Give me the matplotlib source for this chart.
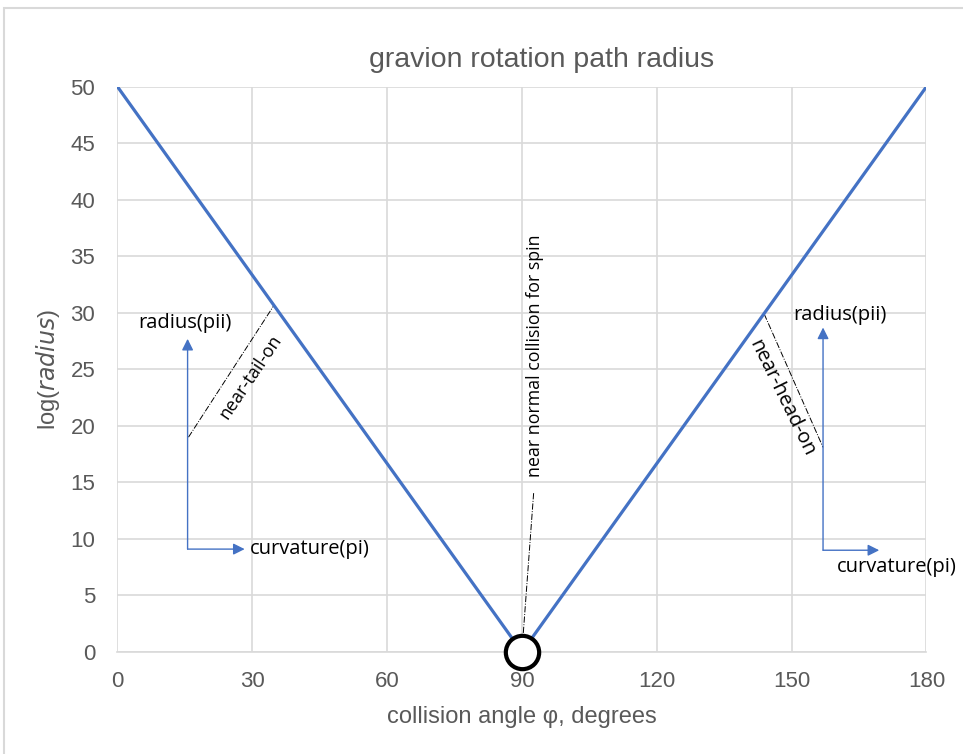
import matplotlib.pyplot as plt
from matplotlib.patches import Rectangle

# data
angle = [0, 90, 180]
log_radius = [50, 0, 50]
x_ticks = [0, 30, 60, 90, 120, 150, 180]
y_ticks = [0, 5, 10, 15, 20, 25, 30, 35, 40, 45, 50]

BLUE = '#4472C4'
GRAY = '#595959'
GRID = '#d9d9d9'

plt.rcParams['font.family'] = ['Liberation Sans', 'DejaVu Sans']

fig = plt.figure(figsize=(9.63, 7.54), dpi=100)
fig.patches.append(Rectangle((0.004, -0.01), 1.2, 1.0, transform=fig.transFigure,
                             fill=False, edgecolor=GRID, lw=1.5))
ax = fig.add_axes([0.122, 0.1353, 0.84, 0.7497])

ax.plot(angle, log_radius, color=BLUE, lw=2.3, zorder=3)
ax.plot([90], [0], 'o', ms=24, mfc='white', mec='black', mew=3, zorder=5, clip_on=False)

ax.set_xlim(0, 180)
ax.set_ylim(0, 50)
ax.set_xticks(x_ticks)
ax.set_yticks(y_ticks)
ax.grid(True, color=GRID, lw=1.2)
ax.set_axisbelow(True)
for s in ['top', 'right', 'left']:
    ax.spines[s].set_visible(False)
ax.spines['bottom'].set_color(GRID)
ax.spines['bottom'].set_linewidth(1.2)
ax.tick_params(length=0, labelsize=16, labelcolor=GRAY)
ax.tick_params(axis='x', pad=14)
ax.tick_params(axis='y', pad=16)

ax.set_title('gravion rotation path radius', fontsize=20.5, color=GRAY, pad=14, x=0.524)
ax.set_xlabel('collision angle φ, degrees', fontsize=17, color=GRAY, labelpad=10)
ax.set_ylabel(r'log($\it{radius}$)', fontsize=17, color=GRAY, labelpad=6)

note = dict(color='black', family=['Open Sans', 'DejaVu Sans'])
arrow = dict(arrowstyle='-|>', color=BLUE, lw=1.0, mutation_scale=17, shrinkA=0, shrinkB=0)

# left annotations
ax.annotate('', xy=(15.6, 27.7), xytext=(15.6, 9.1), arrowprops=arrow)
ax.annotate('', xy=(28.3, 9.1), xytext=(15.6, 9.1), arrowprops=arrow)
ax.text(29.4, 9.1, 'curvature(pi)', ha='left', va='center', fontsize=14.5, **note)
ax.text(14.9, 29.1, 'radius(pii)', ha='center', va='center', fontsize=14.5, **note)
ax.plot([15.8, 34.8], [19.0, 30.65], color='black', lw=0.7, ls='-.')
ax.text(29.6, 24.3, 'near-tail-on', rotation=56, ha='center', va='center',
        rotation_mode='anchor', fontsize=13, **note)

# right annotations
ax.annotate('', xy=(157.0, 28.7), xytext=(157.0, 9.0), arrowprops=arrow)
ax.annotate('', xy=(169.5, 9.0), xytext=(157.0, 9.0), arrowprops=arrow)
ax.text(160.1, 7.5, 'curvature(pi)', ha='left', va='center', fontsize=14.5, **note)
ax.text(160.8, 29.8, 'radius(pii)', ha='center', va='center', fontsize=14.5, **note)
ax.plot([143.9, 157.0], [29.9, 18.1], color='black', lw=0.7, ls='-.')
ax.text(147.7, 22.5, 'near-head-on', rotation=-64, ha='center', va='center',
        rotation_mode='anchor', fontsize=14.5, **note)

# middle annotation
ax.plot([92.6, 90.3], [14.05, 1.68], color='black', lw=0.7, ls='-.')
ax.text(92.8, 15.45, 'near normal collision for spin', rotation=90,
        ha='center', va='bottom', fontsize=12.8, **note)

fig.savefig('out.png', dpi=100)
